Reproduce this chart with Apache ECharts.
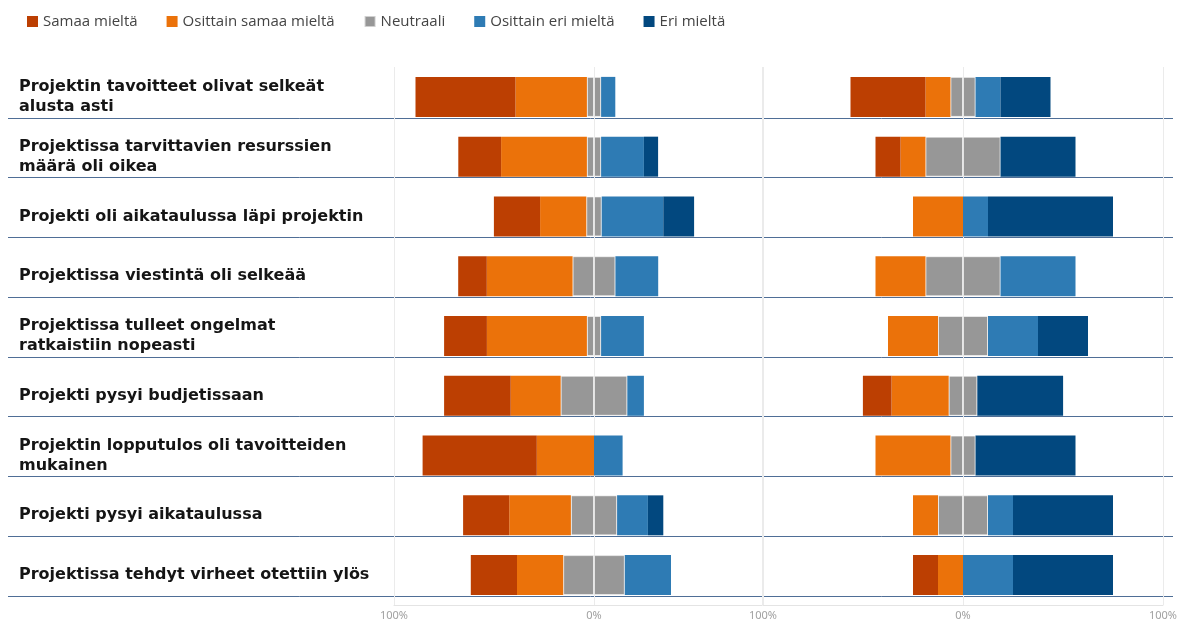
<!DOCTYPE html>
<html>
<head>
<meta charset="utf-8">
<title>Projektin arviointi</title>
<script src="https://cdn.jsdelivr.net/npm/echarts@6/dist/echarts.min.js"></script>
<style>
html,body{margin:0;padding:0;background:#fff;}
#main{width:1187px;height:624px;}
</style>
</head>
<body>
<div id="main"></div>
<script>
var kategoriat = [
	"Projektin tavoitteet olivat selkeät\nalusta asti",
	"Projektissa tarvittavien resurssien\nmäärä oli oikea",
	"Projekti oli aikataulussa läpi projektin",
	"Projektissa viestintä oli selkeää",
	"Projektissa tulleet ongelmat\nratkaistiin nopeasti",
	"Projekti pysyi budjetissaan",
	"Projektin lopputulos oli tavoitteiden\nmukainen",
	"Projekti pysyi aikataulussa",
	"Projektissa tehdyt virheet otettiin ylös"
];
var sarjat = ["Samaa mieltä", "Osittain samaa mieltä", "Neutraali", "Osittain eri mieltä", "Eri mieltä"];
var asteikko = ["100%", "0%", "100%"];

// vasen kaavio (%)
var vasenSamaa     = [50, 21.4, 23.1, 14.3, 21.4, 33.3, 57.1, 23.1, 23.1];
var vasenOsSamaa   = [35.7, 42.9, 23.1, 42.9, 50, 25, 28.6, 30.8, 23.1];
var vasenNeutraali = [7.1, 7.1, 7.7, 21.4, 7.1, 33.3, 0, 23.1, 30.8];
var vasenOsEri     = [7.1, 21.4, 30.8, 21.4, 21.4, 8.3, 14.3, 15.4, 23.1];
var vasenEri       = [0, 7.1, 15.4, 0, 0, 0, 0, 7.7, 0];

// oikea kaavio (%)
var oikeaSamaa     = [37.5, 12.5, 0, 0, 0, 14.3, 0, 0, 12.5];
var oikeaOsSamaa   = [12.5, 12.5, 25, 25, 25, 28.6, 37.5, 12.5, 12.5];
var oikeaNeutraali = [12.5, 37.5, 0, 37.5, 25, 14.3, 12.5, 25, 0];
var oikeaOsEri     = [12.5, 0, 12.5, 37.5, 25, 0, 0, 12.5, 25];
var oikeaEri       = [25, 37.5, 62.5, 0, 25, 42.9, 50, 50, 50];

var varit = ["#bc3f02", "#eb720a", "#979797", "#2e7bb4", "#02487f"];

function neg(arr, k){
	return arr.map(function(v){ return v ? -v * k : null; });
}
function pos(arr, k){
	return arr.map(function(v){ return v ? v * k : null; });
}

function pylvas(nimi, vari, data, pino, indeksi, reuna){
	return {
		name: nimi,
		type: 'bar',
		stack: pino,
		xAxisIndex: indeksi,
		yAxisIndex: indeksi,
		barWidth: 40,
		itemStyle: reuna ? {color: vari, borderColor: 'rgba(255,255,255,0.55)', borderWidth: 1} : {color: vari},
		emphasis: {disabled: true},
		data: data
	};
}

function osio(s, os, n, oe, e, pino, indeksi){
	return [
		pylvas(sarjat[2], varit[2], neg(n, 0.5), pino, indeksi, true),		//neutraali jaetaan nollan molemmin puolin
		pylvas(sarjat[2], varit[2], pos(n, 0.5), pino, indeksi, true),
		pylvas(sarjat[1], varit[1], neg(os, 1), pino, indeksi),
		pylvas(sarjat[3], varit[3], pos(oe, 1), pino, indeksi),
		pylvas(sarjat[0], varit[0], neg(s, 1), pino, indeksi),
		pylvas(sarjat[4], varit[4], pos(e, 1), pino, indeksi)
	];
}

function xAkseli(gi, min, max){
	return {
		type: 'value',
		gridIndex: gi,
		min: min,
		max: max,
		interval: 100,
		axisLine: {show: true, lineStyle: {color: '#e4e4e4'}},
		axisTick: {show: false},
		splitLine: {show: true, lineStyle: {color: '#ebebeb'}},
		axisLabel: {
			color: '#a0a0a0',
			fontSize: 11,
			fontFamily: 'Noto Sans',
			margin: 5,
			formatter: function(v){
				if (v === -100) return asteikko[0];
				if (v === 0) return asteikko[1];
				if (v === 100) return asteikko[2];
				return '';
			}
		}
	};
}

var myChart = echarts.init(document.getElementById('main'));
var option = {
	animation: false,
	legend: {
		data: sarjat,
		left: 22,
		top: 9,
		icon: 'rect',
		itemWidth: 11,
		itemHeight: 11,
		itemGap: 29,
		textStyle: {color: '#444', fontSize: 15, fontFamily: 'Open Sans'}
	},
	grid: [
		{left: 394, top: 67, width: 368, height: 538},
		{left: 763, top: 67, width: 400, height: 538},
		{left: 8, right: 14, top: 58, height: 538}						//erotinviivat
	],
	xAxis: [
		xAkseli(0, -100, 84),
		xAkseli(1, -100, 100),
		{type: 'value', gridIndex: 2, min: 0, max: 1, show: false}
	],
	yAxis: [
		{
			type: 'category',
			gridIndex: 0,
			inverse: true,
			data: kategoriat,
			axisLine: {show: false},
			axisTick: {show: false},
			axisLabel: {
				align: 'left',
				margin: 375,
				color: '#151515',
				fontSize: 16,
				fontWeight: 'bold',
				fontFamily: 'DejaVu Sans',
				lineHeight: 20
			}
		},
		{
			type: 'category',
			gridIndex: 1,
			inverse: true,
			data: kategoriat,
			axisLine: {show: false},
			axisTick: {show: false},
			axisLabel: {show: false}
		},
		{
			type: 'category',
			gridIndex: 2,
			inverse: true,
			data: kategoriat,
			axisLine: {show: false},
			axisTick: {show: false},
			axisLabel: {show: false},
			splitLine: {show: true, showMinLine: false, lineStyle: {color: '#4f6e96', width: 1}}
		}
	],
	series: osio(vasenSamaa, vasenOsSamaa, vasenNeutraali, vasenOsEri, vasenEri, 'vasen', 0)
		.concat(osio(oikeaSamaa, oikeaOsSamaa, oikeaNeutraali, oikeaOsEri, oikeaEri, 'oikea', 1))
};
myChart.setOption(option);
</script>
</body>
</html>
